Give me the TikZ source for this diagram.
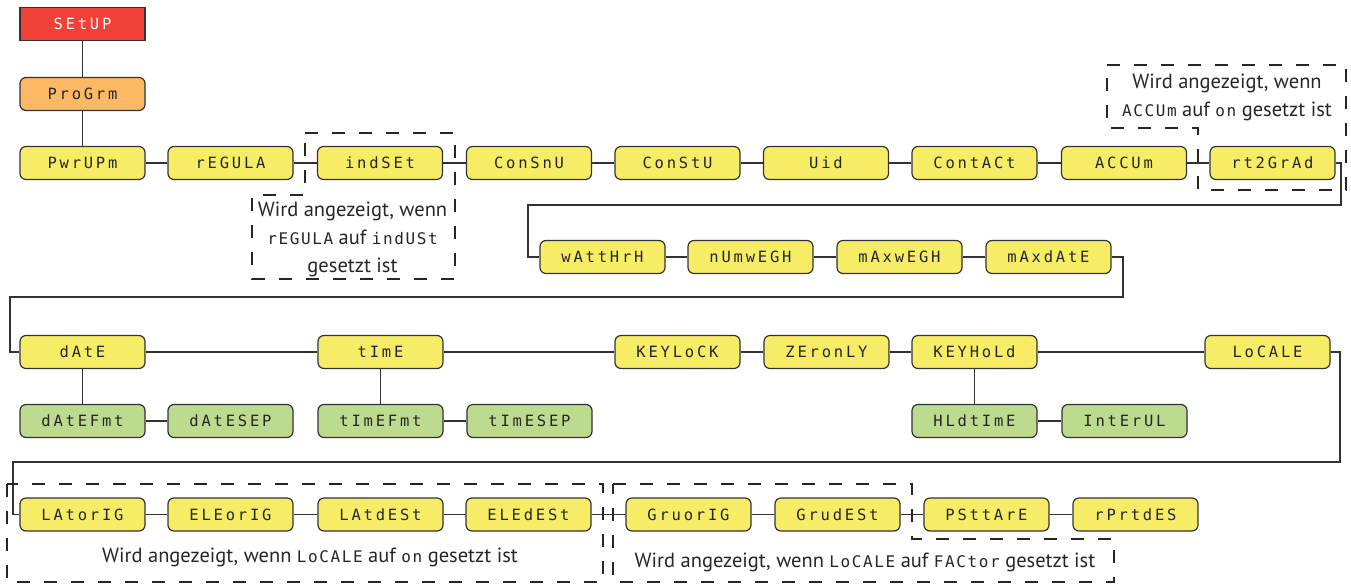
\documentclass[tikz,border=0pt]{standalone}
\usepackage{fontspec}
\setmainfont{PT Sans}
\newfontfamily\segfont[LetterSpace=18]{DejaVu Sans Mono}
\newfontfamily\segnotefont[LetterSpace=10]{DejaVu Sans Mono}
\definecolor{boxred}{HTML}{EF4136}
\definecolor{boxorange}{HTML}{FDB863}
\definecolor{boxyellow}{HTML}{F7EC65}
\definecolor{boxgreen}{HTML}{BCDB8F}
\definecolor{linegray}{HTML}{333333}
\newcommand{\seg}[1]{{\segnotefont\fontsize{16}{15}\selectfont #1}}
\tikzset{
  menubox/.style={draw=linegray, line width=1.2pt, rounded corners=6pt,
    minimum width=125pt, minimum height=33pt, inner sep=0pt,
    font=\segfont\fontsize{15.5}{15}\selectfont, text=black!85},
  ybox/.style={menubox, fill=boxyellow},
  gbox/.style={menubox, fill=boxgreen},
  obox/.style={menubox, fill=boxorange},
  rbox/.style={menubox, fill=boxred, rounded corners=0pt, text=white},
  conn/.style={draw=linegray, line width=1.2pt},
  dashbox/.style={draw=black!85, line width=1.8pt, dash pattern=on 13pt off 14pt},
  note/.style={align=center, inner sep=0pt, font=\fontsize{20.5}{28}\selectfont, text=black!85}
}
\begin{document}
\begin{tikzpicture}[x=1pt,y=-1pt]
\useasboundingbox (0,0) rectangle (1351,584);
% column 1 top
\node[rbox] (setup) at (82.5,24) {SEtUP};
\node[obox] (progrm) at (82.5,94) {ProGrm};
% row 1
\node[ybox] (pwrup) at (82.5,163) {PwrUPm};
\node[ybox] (regula) at (230.5,163) {rEGULA};
\node[ybox] (indset) at (380,163) {indSEt};
\node[ybox] (consnu) at (529,163) {ConSnU};
\node[ybox] (constu) at (677.5,163) {ConStU};
\node[ybox] (uid) at (826,163) {Uid};
\node[ybox] (contact) at (974.5,163) {ContACt};
\node[ybox] (accum) at (1124,163) {ACCUm};
\node[ybox] (rtgrad) at (1272.5,163) {rt2GrAd};
% row 2
\node[ybox] (watt) at (602.5,257) {wAttHrH};
\node[ybox] (numweg) at (750.5,257) {nUmwEGH};
\node[ybox] (maxweg) at (899.5,257) {mAxwEGH};
\node[ybox] (maxdate) at (1048.5,257) {mAxdAtE};
% row 3
\node[ybox] (date) at (82.5,352) {dAtE};
\node[ybox] (time) at (380.5,352) {tImE};
\node[ybox] (keylock) at (677.5,352) {KEYLoCK};
\node[ybox] (zeronly) at (826.5,352) {ZEronLY};
\node[ybox] (keyhold) at (974.5,352) {KEYHoLd};
\node[ybox] (locale) at (1267.5,352) {LoCALE};
% row 4
\node[gbox] (datefmt) at (82.5,421) {dAtEFmt};
\node[gbox] (datesep) at (230.5,421) {dAtESEP};
\node[gbox] (timefmt) at (380.5,421) {tImEFmt};
\node[gbox] (timesep) at (529.5,421) {tImESEP};
\node[gbox] (hldtime) at (974.5,421) {HLdtImE};
\node[gbox] (interul) at (1124.5,421) {IntErUL};
% row 5
\node[ybox] (latorig) at (82.5,514.5) {LAtorIG};
\node[ybox] (eleorig) at (230.5,514.5) {ELEorIG};
\node[ybox] (latdest) at (380.5,514.5) {LAtdESt};
\node[ybox] (eledest) at (528.5,514.5) {ELEdESt};
\node[ybox] (gruorig) at (688.5,514.5) {GruorIG};
\node[ybox] (grudest) at (837.5,514.5) {GrudESt};
\node[ybox] (psttare) at (986.5,514.5) {PSttArE};
\node[ybox] (rprtdes) at (1135.5,514.5) {rPrtdES};
% route coordinates
\coordinate (r1a) at (1341,205);
\coordinate (r1b) at (528,205);
\coordinate (r2a) at (1123,297);
\coordinate (r2b) at (10,297);
\coordinate (r3a) at (1340,462);
\coordinate (r3b) at (13,462);
% connectors
\draw[conn] (setup) -- (progrm);
\draw[conn] (progrm) -- (pwrup);
\draw[conn] (pwrup) -- (regula);
\draw[conn] (regula) -- (indset);
\draw[conn] (indset) -- (consnu);
\draw[conn] (consnu) -- (constu);
\draw[conn] (constu) -- (uid);
\draw[conn] (uid) -- (contact);
\draw[conn] (contact) -- (accum);
\draw[conn] (accum) -- (rtgrad);
\draw[conn] (rtgrad.east) -| (r1a) -- (r1b) |- (watt.west);
\draw[conn] (watt) -- (numweg);
\draw[conn] (numweg) -- (maxweg);
\draw[conn] (maxweg) -- (maxdate);
\draw[conn] (maxdate.east) -| (r2a) -- (r2b) |- (date.west);
\draw[conn] (date) -- (time);
\draw[conn] (time) -- (keylock);
\draw[conn] (keylock) -- (zeronly);
\draw[conn] (zeronly) -- (keyhold);
\draw[conn] (keyhold) -- (locale);
\draw[conn] (date) -- (datefmt);
\draw[conn] (datefmt) -- (datesep);
\draw[conn] (time) -- (timefmt);
\draw[conn] (timefmt) -- (timesep);
\draw[conn] (keyhold) -- (hldtime);
\draw[conn] (hldtime) -- (interul);
\draw[conn] (locale.east) -| (r3a) -- (r3b) |- (latorig.west);
\draw[conn] (latorig) -- (eleorig);
\draw[conn] (eleorig) -- (latdest);
\draw[conn] (latdest) -- (eledest);
\draw[conn] (eledest) -- (gruorig);
\draw[conn] (gruorig) -- (grudest);
\draw[conn] (grudest) -- (psttare);
\draw[conn] (psttare) -- (rprtdes);
% dashed groups
\draw[dashbox] (305,133) -- (455,133) -- (455,279) -- (252,279) -- (252,195) -- (305,195) -- cycle;
\draw[dashbox] (1107,65) -- (1346,65) -- (1346,190) -- (1198,190) -- (1198,128) -- (1107,128) -- cycle;
\draw[dashbox] (7,484) rectangle (603,582);
\draw[dashbox] (613,484) -- (912,484) -- (912,539) -- (1114,539) -- (1114,582) -- (613,582) -- cycle;
% notes
\node[note] (n1) at (352.5,239) {Wird angezeigt, wenn\\\seg{rEGULA} auf \seg{indUSt}\\gesetzt ist};
\node[note] (n2) at (1227,97) {Wird angezeigt, wenn\\\seg{ACCUm} auf \seg{on} gesetzt ist};
\node[note] (n3) at (310,557) {Wird angezeigt, wenn \seg{LoCALE} auf \seg{on} gesetzt ist};
\node[note] (n4) at (865,562) {Wird angezeigt, wenn \seg{LoCALE} auf \seg{FACtor} gesetzt ist};
\end{tikzpicture}
\end{document}
